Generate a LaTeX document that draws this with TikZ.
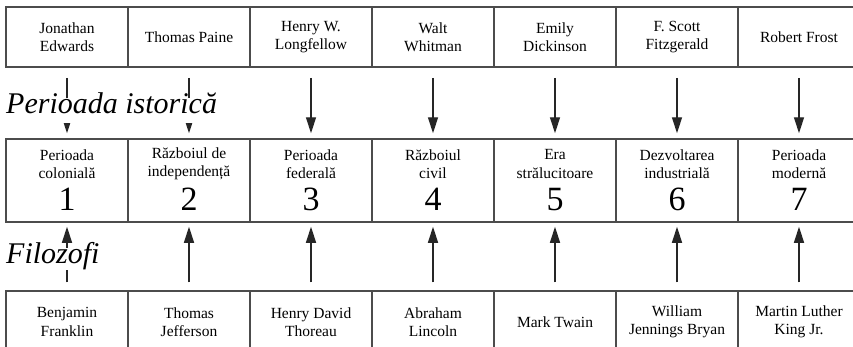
\documentclass[tikz,border=0pt]{standalone}
\usepackage{fontspec}
\setmainfont{Liberation Serif}
\usetikzlibrary{arrows.meta}
\usetikzlibrary{positioning}

\newcommand{\cellfont}{\fontsize{15.5}{18.5}\selectfont}
\newcommand{\numfont}{\fontsize{34}{36}\selectfont}
\newcommand{\titlefont}{\fontsize{30}{32}\selectfont\itshape}

\begin{document}
\begin{tikzpicture}[x=1pt, y=-1pt,
    cell/.style={draw=black!70, line width=1.5pt, minimum width=122pt, inner sep=0pt, align=center, font=\cellfont},
    txt/.style={inner sep=0pt, align=center, font=\cellfont},
    link/.style={draw=black!85, line width=1.4pt, -{Triangle[width=10pt, length=16pt]}},
    title/.style={fill=white, inner sep=0pt, anchor=base west, font=\titlefont}]
    \clip (0,0) rectangle (853,346);
    \foreach \i/\name in {1/{Jonathan\\Edwards}, 2/{Thomas Paine}, 3/{Henry W.\\Longfellow}, 4/{Walt\\Whitman},
        5/{Emily\\Dickinson}, 6/{F. Scott\\Fitzgerald}, 7/{Robert Frost}}{
      \node[cell, minimum height=60pt] (a\i) at ({67+122*(\i-1)}, 37) {\name};
    }
    \foreach \i/\name in {1/{Perioada\\colonială}, 2/{Războiul de\\independență}, 3/{Perioada\\federală},
        4/{Războiul\\civil}, 5/{Era\\strălucitoare}, 6/{Dezvoltarea\\industrială}, 7/{Perioada\\modernă}}{
      \node[cell, minimum height=83pt] (p\i) at ({67+122*(\i-1)}, 180.5) {};
      \node[txt] (e\i) at ({67+122*(\i-1)}, 164) {\name};
      \node[inner sep=0pt, anchor=base, font=\numfont] (n\i) at ({67+122*(\i-1)}, 210) {\i};
    }
    \foreach \i/\name in {1/{Benjamin\\Franklin}, 2/{Thomas\\Jefferson}, 3/{Henry David\\Thoreau}, 4/{Abraham\\Lincoln},
        5/{Mark Twain}, 6/{William\\Jennings Bryan}, 7/{Martin Luther\\King Jr.}}{
      \node[cell, minimum height=62pt] (f\i) at ({67+122*(\i-1)}, 322) {\name};
    }
    \foreach \i in {1,...,7}{
      \draw[link, shorten <=10pt, shorten >=5pt] (a\i) -- (p\i);
      \draw[link, shorten <=8pt, shorten >=4pt] (f\i) -- (p\i);
    }
    \node[title, text height=15pt, text depth=10pt] (hist) at (6,113) {Perioada istorică};
    \node[title, text height=15pt, text depth=7pt] (phil) at (6,263) {Filozofi};
  \end{tikzpicture}
\end{document}
